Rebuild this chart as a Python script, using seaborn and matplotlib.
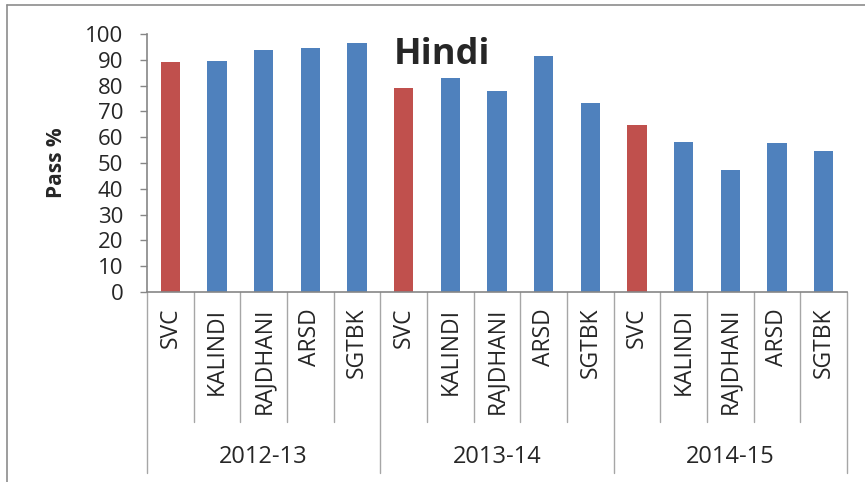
#!/usr/bin/env python3
"""Hindi pass % by college and year, Excel-style grouped category axis."""

import matplotlib
matplotlib.use("Agg")
import matplotlib.pyplot as plt
import matplotlib.transforms as mtransforms
import pandas as pd
import seaborn as sns

# ----------------------------
# Data
# ----------------------------
years = ["2012-13", "2013-14", "2014-15"]
colleges = ["SVC", "KALINDI", "RAJDHANI", "ARSD", "SGTBK"]
pass_2012 = [89.2, 89.5, 93.8, 94.7, 96.4]
pass_2013 = [79.2, 82.8, 77.9, 91.5, 73.3]
pass_2014 = [64.8, 58.1, 47.1, 57.7, 54.7]

RED = "#C0504D"
BLUE = "#4F81BD"
GREY = "#868686"


def main():
    sns.set_theme(style="white")
    plt.rcParams["font.family"] = ["Open Sans", "DejaVu Sans"]

    rows = []
    for year, vals in zip(years, [pass_2012, pass_2013, pass_2014]):
        for college, v in zip(colleges, vals):
            rows.append({"key": f"{year}|{college}", "year": year,
                         "college": college, "pass": v})
    df = pd.DataFrame(rows)
    colors = [RED if c == "SVC" else BLUE for c in df["college"]]

    fig = plt.figure(figsize=(8.65, 4.82), dpi=100)
    ax = fig.add_axes([147 / 865, 190 / 482, 700 / 865, 258 / 482])

    sns.barplot(data=df, x="key", y="pass", hue="key", palette=colors,
                legend=False, width=0.41, linewidth=0, saturation=1, ax=ax)

    ax.set_ylim(0, 100)
    ax.set_xlim(-0.5, len(df) - 0.5)
    ax.set_yticks(range(0, 101, 10))
    ax.tick_params(axis="y", labelsize=16, length=5, width=1, color=GREY,
                   direction="out", left=True, pad=12)
    ax.set_ylabel("Pass %", fontsize=15, fontweight="bold")
    ax.yaxis.set_label_coords(-0.114, 0.5)
    ax.set_xlabel("")
    ax.set_xticks([])

    for side in ["top", "right"]:
        ax.spines[side].set_visible(False)
    for side in ["left", "bottom"]:
        ax.spines[side].set_color(GREY)
        ax.spines[side].set_linewidth(1.2)

    # multi-level category axis
    trans = mtransforms.blended_transform_factory(ax.transData, ax.transAxes)
    ax_h = 258
    for i in range(len(df) + 1):
        x = i - 0.5
        depth = (473 - 292) if i % len(colleges) == 0 else (422 - 292)
        ax.plot([x, x], [0, -depth / ax_h], color="#A6A6A6", lw=1,
                transform=trans, clip_on=False)
    for i, row in df.iterrows():
        ax.text(i, -16 / ax_h, row["college"], rotation=90, ha="center",
                va="top", fontsize=16.5, transform=trans)
    for g, year in enumerate(years):
        mid = g * len(colleges) + (len(colleges) - 1) / 2
        ax.text(mid, -165 / ax_h, year, ha="center", va="center",
                fontsize=17, transform=trans)

    # title inside the plot
    fig.text(442 / 865, 1 - 55 / 482, "Hindi", ha="center", va="center",
             fontsize=26, fontweight="bold")

    # chart area border (top and left edge visible)
    fig.add_artist(plt.Line2D([7 / 865, 1], [1 - 5 / 482, 1 - 5 / 482],
                              color="#8C8C8C", lw=1.2, transform=fig.transFigure))
    fig.add_artist(plt.Line2D([7 / 865, 7 / 865], [0, 1 - 5 / 482],
                              color="#8C8C8C", lw=1.2, transform=fig.transFigure))

    fig.savefig("out.png", dpi=100)


if __name__ == "__main__":
    main()
